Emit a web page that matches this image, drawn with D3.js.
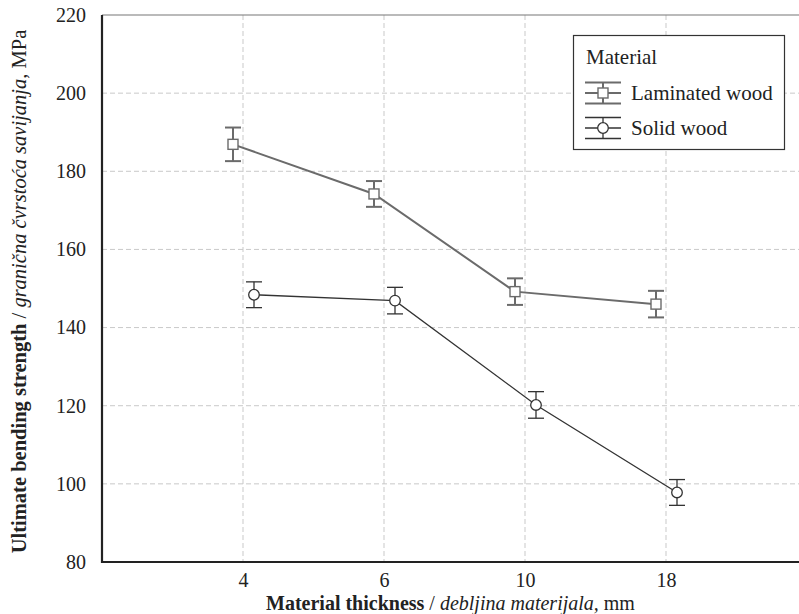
<!DOCTYPE html>
<html>
<head>
<meta charset="utf-8">
<script src="https://cdn.jsdelivr.net/npm/d3@7"></script>
<style>
  body { margin: 0; background: #fff; }
  svg text { font-family: "Liberation Serif", "Times New Roman", serif; fill: #222; }
</style>
</head>
<body>
<div id="chart"></div>
<script>
// data
var thickness = ["4", "6", "10", "18"];
var yTicks = [80, 100, 120, 140, 160, 180, 200, 220];
var laminatedMean = [186.9, 174.2, 149.2, 146.0];
var laminatedErr = [4.3, 3.3, 3.4, 3.4];
var solidMean = [148.4, 146.9, 120.2, 97.8];
var solidErr = [3.3, 3.4, 3.4, 3.3];
var seriesNames = ["Laminated wood", "Solid wood"];

var width = 799, height = 614;
var plotLeft = 102, plotTop = 15, plotRight = 807, plotBottom = 562;
var serif = "'Liberation Serif', 'Times New Roman', serif";

var svg = d3.select("#chart").append("svg")
    .attr("width", width)
    .attr("height", height);

var x = d3.scalePoint()
    .domain(thickness)
    .range([plotLeft, plotRight])
    .padding(1);

var y = d3.scaleLinear()
    .domain([80, 220])
    .range([plotBottom, plotTop]);

// grid
svg.append("g").selectAll("line")
    .data(yTicks.filter(function(d){ return d > 80 && d < 220; }))
    .enter().append("line")
    .attr("x1", plotLeft).attr("x2", width)
    .attr("y1", function(d){ return y(d); })
    .attr("y2", function(d){ return y(d); })
    .style("stroke", "#c9c9c9")
    .style("stroke-dasharray", "5,3");

svg.append("g").selectAll("line")
    .data(thickness)
    .enter().append("line")
    .attr("x1", function(d){ return x(d); })
    .attr("x2", function(d){ return x(d); })
    .attr("y1", plotTop).attr("y2", plotBottom)
    .style("stroke", "#c9c9c9")
    .style("stroke-dasharray", "5,3");

// top border
svg.append("line")
    .attr("x1", plotLeft).attr("x2", width)
    .attr("y1", plotTop).attr("y2", plotTop)
    .style("stroke", "#777")
    .style("stroke-width", 1.2);

// axes
var xAxis = svg.append("g")
    .attr("transform", "translate(0," + plotBottom + ")")
    .call(d3.axisBottom(x).tickSize(0).tickPadding(11))
    .attr("font-family", serif);
xAxis.select(".domain").remove();
xAxis.selectAll("text").style("font-size", "20px");

var yAxis = svg.append("g")
    .attr("transform", "translate(" + plotLeft + ",0)")
    .call(d3.axisLeft(y).tickValues(yTicks).tickSize(0).tickPadding(16))
    .attr("font-family", serif);
yAxis.select(".domain").remove();
yAxis.selectAll("text").style("font-size", "20px");

svg.append("path")
    .attr("d", "M" + plotLeft + "," + plotTop + "V" + plotBottom + "H" + width)
    .style("fill", "none")
    .style("stroke", "#222")
    .style("stroke-width", 2.2);

// series
var series = [
  { name: seriesNames[0], mean: laminatedMean, err: laminatedErr, dx: -10, color: "#6b6b6b", lw: 2, shape: "square" },
  { name: seriesNames[1], mean: solidMean, err: solidErr, dx: 11, color: "#333", lw: 1.3, shape: "circle" }
];

series.forEach(function(s){
  var pts = thickness.map(function(t, i){
    return { x: x(t) + s.dx, v: s.mean[i], e: s.err[i] };
  });
  var g = svg.append("g");

  g.append("path")
    .datum(pts)
    .attr("d", d3.line().x(function(d){ return d.x; }).y(function(d){ return y(d.v); }))
    .style("fill", "none")
    .style("stroke", s.color)
    .style("stroke-width", s.lw);

  var eb = g.selectAll(".eb").data(pts).enter().append("g");
  eb.append("line")
    .attr("x1", function(d){ return d.x; }).attr("x2", function(d){ return d.x; })
    .attr("y1", function(d){ return y(d.v + d.e); })
    .attr("y2", function(d){ return y(d.v - d.e); });
  eb.append("line")
    .attr("x1", function(d){ return d.x - 8; }).attr("x2", function(d){ return d.x + 8; })
    .attr("y1", function(d){ return y(d.v + d.e); })
    .attr("y2", function(d){ return y(d.v + d.e); });
  eb.append("line")
    .attr("x1", function(d){ return d.x - 8; }).attr("x2", function(d){ return d.x + 8; })
    .attr("y1", function(d){ return y(d.v - d.e); })
    .attr("y2", function(d){ return y(d.v - d.e); });
  eb.selectAll("line")
    .style("stroke", s.color)
    .style("stroke-width", s.lw);

  if (s.shape == "square") {
    g.selectAll(".pt").data(pts).enter().append("rect")
      .attr("x", function(d){ return d.x - 5; })
      .attr("y", function(d){ return y(d.v) - 5; })
      .attr("width", 10).attr("height", 10)
      .style("fill", "#fff").style("stroke", s.color).style("stroke-width", 1.4);
  } else {
    g.selectAll(".pt").data(pts).enter().append("circle")
      .attr("cx", function(d){ return d.x; })
      .attr("cy", function(d){ return y(d.v); })
      .attr("r", 5.3)
      .style("fill", "#fff").style("stroke", s.color).style("stroke-width", 1.3);
  }
});

// legend
var legend = svg.append("g");
legend.append("rect")
    .attr("x", 573.5).attr("y", 35.5)
    .attr("width", 211).attr("height", 114)
    .style("fill", "#fff")
    .style("stroke", "#333")
    .style("stroke-width", 1.2);
legend.append("text")
    .attr("x", 586).attr("y", 64)
    .style("font-size", "21px")
    .text("Material");

var keys = legend.selectAll(".key")
    .data(series)
    .enter().append("g")
    .attr("transform", function(d, i){ return "translate(603," + (93 + i * 35) + ")"; });

keys.each(function(s){
  var k = d3.select(this);
  [-10.5, 0, 10.5].forEach(function(yy){
    k.append("line")
      .attr("x1", -18).attr("x2", 18)
      .attr("y1", yy).attr("y2", yy)
      .style("stroke", s.color).style("stroke-width", s.lw);
  });
  k.append("line")
    .attr("x1", 0).attr("x2", 0).attr("y1", -10.5).attr("y2", 10.5)
    .style("stroke", s.color).style("stroke-width", s.lw);
  if (s.shape == "square") {
    k.append("rect").attr("x", -5).attr("y", -5).attr("width", 10).attr("height", 10)
      .style("fill", "#fff").style("stroke", s.color).style("stroke-width", 1.4);
  } else {
    k.append("circle").attr("r", 5.3)
      .style("fill", "#fff").style("stroke", s.color).style("stroke-width", 1.3);
  }
  k.append("text")
    .attr("x", 28).attr("y", 7)
    .style("font-size", "21px")
    .text(s.name);
});

// axis titles
var xt = svg.append("text")
    .attr("x", (plotLeft + width) / 2).attr("y", 610)
    .style("text-anchor", "middle")
    .style("font-size", "20px");
xt.append("tspan").style("font-weight", "bold").text("Material thickness");
xt.append("tspan").text(" / ");
xt.append("tspan").style("font-style", "italic").text("debljina materijala,");
xt.append("tspan").text(" mm");

var yt = svg.append("text")
    .attr("transform", "translate(26," + ((plotTop + plotBottom) / 2 + 3) + ") rotate(-90)")
    .style("text-anchor", "middle")
    .style("font-size", "20.5px");
yt.append("tspan").style("font-weight", "bold").text("Ultimate bending strength");
yt.append("tspan").text(" / ");
yt.append("tspan").style("font-style", "italic").text("granična čvrstoća savijanja,");
yt.append("tspan").text(" MPa");
</script>
</body>
</html>
